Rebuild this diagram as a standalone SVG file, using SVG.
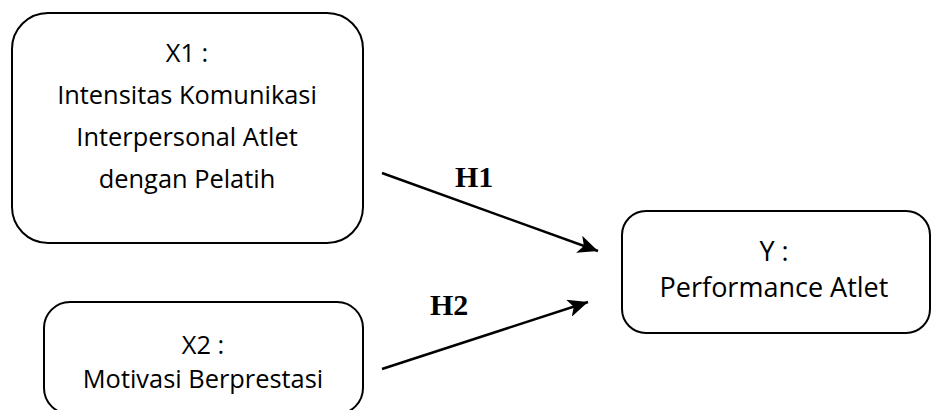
<svg xmlns="http://www.w3.org/2000/svg" width="932" height="410" viewBox="0 0 932 410">
  <style>
    .box { fill: #ffffff; stroke: #000000; stroke-width: 2; }
    .lbl { font-family: "Open Sans", "Liberation Sans", sans-serif; font-size: 25.4px; fill: #000000; text-anchor: middle; }
    .lbly { font-size: 27px; }
    .h { font-family: "Liberation Serif", "Times New Roman", serif; font-size: 30px; font-weight: bold; fill: #000000; }
    .conn { stroke: #000000; stroke-width: 2.5; fill: none; marker-end: url(#arrow); }
  </style>
  <defs>
    <marker id="arrow" markerUnits="userSpaceOnUse" markerWidth="22" markerHeight="18" refX="20" refY="9" orient="auto">
      <path d="M0,0 L20,9 L0,18 L5,9 Z" fill="#000000"/>
    </marker>
  </defs>
  <rect width="932" height="410" fill="#ffffff"/>
  <g id="node-x1">
    <rect class="box" x="12" y="13" width="351" height="230" rx="36" ry="36"/>
    <text class="lbl" x="187" y="62">X1 :</text>
    <text class="lbl" x="187" y="104">Intensitas Komunikasi</text>
    <text class="lbl" x="187" y="146">Interpersonal Atlet</text>
    <text class="lbl" x="187" y="188">dengan Pelatih</text>
  </g>
  <g id="node-x2">
    <rect class="box" x="44" y="302" width="319" height="112" rx="26" ry="26"/>
    <text class="lbl" x="203" y="354">X2 :</text>
    <text class="lbl" x="203" y="388">Motivasi Berprestasi</text>
  </g>
  <g id="node-y">
    <rect class="box" x="622" y="211" width="308" height="122" rx="24" ry="24"/>
    <text class="lbl lbly" x="774" y="261">Y :</text>
    <text class="lbl lbly" x="774" y="297">Performance Atlet</text>
  </g>
  <g id="connectors">
    <line class="conn" x1="382" y1="173" x2="598" y2="251"/>
    <line class="conn" x1="382" y1="369" x2="588" y2="302"/>
    <text class="h" x="455" y="187">H1</text>
    <text class="h" x="430" y="315">H2</text>
  </g>
</svg>
